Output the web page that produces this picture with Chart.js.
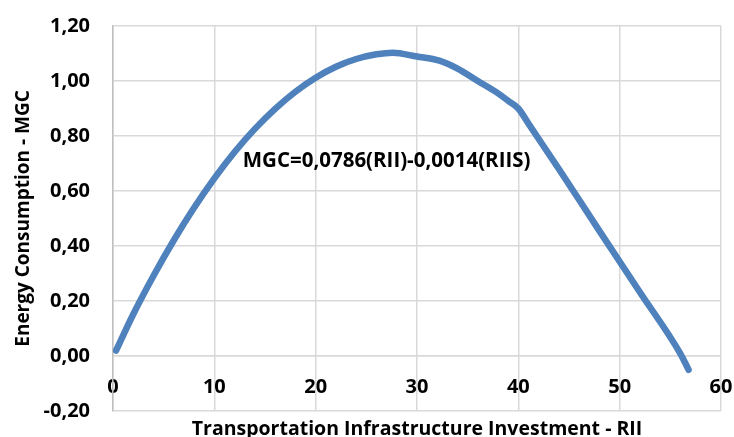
<!DOCTYPE html>
<html lang="en">
<head>
    <meta charset="UTF-8">
    <title>MGC vs RII</title>
    <script src="https://cdn.jsdelivr.net/npm/chart.js"></script>
    <style>
        html, body {
            margin: 0;
            padding: 0;
            background: #fff;
        }
        .chart-container {
            position: relative;
            width: 734px;
            height: 437px;
        }
    </style>
</head>
<body>
    <div class="chart-container">
        <canvas id="mgcChart"></canvas>
    </div>

    <script>
        // values
        var rii = [0.3, 2, 4, 6, 8, 10, 12, 14, 16, 18, 20, 22, 24, 26, 27.6, 30, 32.2, 34, 36, 38, 39, 40, 41, 44, 48, 52, 56, 56.8];
        var mgc = [0.02, 0.152, 0.292, 0.421, 0.539, 0.646, 0.742, 0.826, 0.899, 0.961, 1.012, 1.052, 1.080, 1.097, 1.103, 1.089, 1.074, 1.045, 1.00, 0.955, 0.928, 0.90, 0.845, 0.68, 0.455, 0.232, 0.008, -0.05];

        var xTicks = [0, 10, 20, 30, 40, 50, 60];
        var yTicks = [-0.2, 0, 0.2, 0.4, 0.6, 0.8, 1.0, 1.2];

        var equationText = 'MGC=0,0786(RII)-0,0014(RIIS)';
        var equationAt = [12.8, 0.709];

        var xTitle = 'Transportation Infrastructure Investment - RII';
        var yTitle = 'Energy Consumption - MGC';

        var points = rii.map(function (v, i) { return { x: v, y: mgc[i] }; });

        var font = "'Open Sans', 'DejaVu Sans', sans-serif";

        // draws the equation label inside the plot
        var equationLabel = {
            id: 'equationLabel',
            afterDatasetsDraw: function (chart) {
                var ctx = chart.ctx;
                var px = chart.scales.x.getPixelForValue(equationAt[0]);
                var py = chart.scales.y.getPixelForValue(equationAt[1]);
                ctx.save();
                ctx.font = 'bold 20.5px ' + font;
                ctx.fillStyle = '#000';
                ctx.textAlign = 'left';
                ctx.textBaseline = 'middle';
                ctx.fillText(equationText, px, py);
                ctx.restore();
            }
        };

        var ctx = document.getElementById('mgcChart').getContext('2d');
        var mgcChart = new Chart(ctx, {
            type: 'line',
            data: {
                datasets: [{
                    label: 'MGC',
                    data: points,
                    borderColor: '#4F81BD',
                    borderWidth: 6.5,
                    borderCapStyle: 'round',
                    borderJoinStyle: 'round',
                    pointRadius: 0,
                    fill: false,
                    cubicInterpolationMode: 'monotone'
                }]
            },
            options: {
                responsive: true,
                maintainAspectRatio: false,
                animation: false,
                layout: {
                    padding: { top: 26, right: 13, bottom: 0, left: 0 }
                },
                plugins: {
                    legend: { display: false },
                    tooltip: { enabled: false }
                },
                scales: {
                    x: {
                        type: 'linear',
                        position: { y: 0 },
                        min: 0,
                        max: 60,
                        afterBuildTicks: function (scale) {
                            scale.ticks = xTicks.map(function (v) { return { value: v }; });
                        },
                        // invisible tick marks push the labels below the zero line
                        grid: { color: '#d9d9d9', lineWidth: 1.5, tickLength: 19, tickColor: 'rgba(0,0,0,0)' },
                        border: { color: '#d9d9d9', width: 1.5 },
                        ticks: {
                            padding: 0,
                            color: '#000',
                            maxRotation: 0,
                            font: { family: font, size: 20, weight: 'bold' }
                        }
                    },
                    xt: {
                        type: 'linear',
                        axis: 'x',
                        position: 'bottom',
                        min: 0,
                        max: 60,
                        grid: { display: false },
                        border: { display: false },
                        ticks: { display: false },
                        afterFit: function (scale) { scale.height = 26; },
                        title: {
                            display: true,
                            text: xTitle,
                            color: '#000',
                            padding: { top: 0, bottom: -4 },
                            font: { family: font, size: 19.5, weight: 'bold' }
                        }
                    },
                    y: {
                        type: 'linear',
                        position: 'left',
                        min: -0.2,
                        max: 1.2,
                        afterBuildTicks: function (scale) {
                            scale.ticks = yTicks.map(function (v) { return { value: v }; });
                        },
                        afterFit: function (scale) { scale.width = 113; },
                        grid: { color: '#d9d9d9', lineWidth: 1.5, tickLength: 23, tickColor: 'rgba(0,0,0,0)' },
                        border: { color: '#bfbfbf', width: 1.5 },
                        ticks: {
                            padding: 0,
                            color: '#000',
                            font: { family: font, size: 20, weight: 'bold' },
                            callback: function (value) {
                                return value.toFixed(2).replace('.', ',');
                            }
                        },
                        title: {
                            display: true,
                            text: yTitle,
                            color: '#000',
                            padding: { top: 12, bottom: 0 },
                            font: { family: font, size: 19, weight: 'bold' }
                        }
                    }
                }
            },
            plugins: [equationLabel]
        });
    </script>
</body>
</html>
